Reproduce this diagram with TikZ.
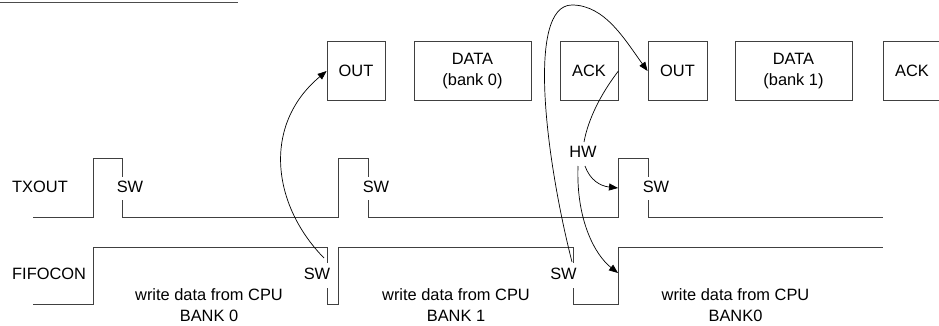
\documentclass[tikz,border=0pt]{standalone}
\usepackage{fontspec}
\setmainfont{Liberation Sans}
\usetikzlibrary{arrows.meta}
\begin{document}
\begin{tikzpicture}[x=1pt,y=-1pt,
  every node/.style={font=\fontsize{16.4}{20.5}\selectfont, inner sep=0pt},
  pkt/.style={draw=black!75, line width=0.8pt, minimum height=59pt, align=center},
  wave/.style={draw=black!75, line width=1pt},
  lbl/.style={align=center},
  conn/.style={draw=black, line width=0.7pt},
  arr/.style={conn, -{Triangle[length=9pt,width=7pt]}}]
\useasboundingbox (0,0) rectangle (939,325);
% cut-off heading underline
\draw[black!70, line width=1pt] (0,2) -- (238,2);
% packet boxes
\node[pkt, minimum width=58pt] (out1) at (356,71) {OUT};
\node[pkt, minimum width=117pt] (data0) at (472.5,71) {DATA\\(bank 0)};
\node[pkt, minimum width=58pt] (ack1) at (589,71) {ACK};
\node[pkt, minimum width=59pt] (out2) at (677.5,71) {OUT};
\node[pkt, minimum width=117pt] (data1) at (793.5,71) {DATA\\(bank 1)};
\node[pkt, minimum width=58pt] (ack2) at (912,71) {ACK};
% signal names
\node[anchor=west] (txout) at (12,187) {TXOUT};
\node[anchor=west] (fifocon) at (12,274) {FIFOCON};
% TXOUT waveform
\draw[wave] (33,217) -- (93,217) -- (93,158) -- (122,158) -- (122,177);
\draw[wave] (122,200) -- (122,217) -- (338,217) -- (338,158) -- (368,158) -- (368,177);
\draw[wave] (368,200) -- (368,217) -- (618,217) -- (618,158) -- (648,158) -- (648,177);
\draw[wave] (648,200) -- (648,217) -- (883,217);
% FIFOCON waveform
\draw[wave] (33,304) -- (93,304) -- (93,247) -- (327,247) -- (327,263);
\draw[wave] (327,288) -- (327,304) -- (338,304) -- (338,247) -- (573,247) -- (573,263);
\draw[wave] (573,288) -- (573,304) -- (618,304) -- (618,247) -- (883,247);
% SW labels
\node (tsw1) at (130,187) {SW};
\node (tsw2) at (376,187) {SW};
\node (tsw3) at (656,187) {SW};
\node (fsw1) at (317,274) {SW};
\node (fsw2) at (563.5,274) {SW};
\node (hw) at (583,152) {HW};
% captions
\node[lbl] (cap0) at (209,305) {write data from CPU\\BANK 0};
\node[lbl] (cap1) at (456,305) {write data from CPU\\BANK 1};
\node[lbl] (cap2) at (735.5,305) {write data from CPU\\BANK0};
% connector end points
\coordinate (s1) at (324,258);
\coordinate (s2) at (572,262);
\coordinate (top) at (572,5);
\coordinate (hwtop) at (584,142);
\coordinate (hwa) at (585,166);
\coordinate (hwb) at (578,166);
\coordinate (tx3) at (618,188);
\coordinate (ff3) at (618,273);
% connectors
\draw[arr] (s1) .. controls (272,205) and (262,125) .. (out1.west);
\draw[arr] (s2) .. controls (546,160) and (526,5) .. (top)
  .. controls (605,5) and (625,40) .. (out2.west);
\draw[conn] (ack1.east) .. controls (600,95) and (588,120) .. (hwtop);
\draw[arr] (hwa) .. controls (590,180) and (600,186) .. (tx3);
\draw[arr] (hwb) .. controls (576,220) and (595,255) .. (ff3);
\end{tikzpicture}
\end{document}
